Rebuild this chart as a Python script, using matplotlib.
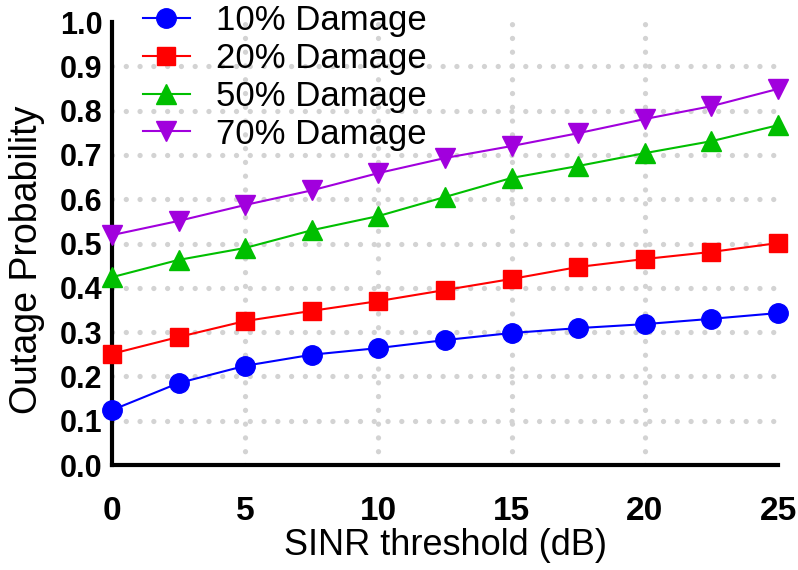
import numpy as np
import matplotlib
matplotlib.use('Agg')
import matplotlib.pyplot as plt

# SINR threshold (dB) and outage probability per damage level
sinr_db = [0, 2.5, 5, 7.5, 10, 12.5, 15, 17.5, 20, 22.5, 25]
outage_10 = [0.124, 0.185, 0.224, 0.249, 0.264, 0.282, 0.298, 0.309, 0.318, 0.330, 0.343]
outage_20 = [0.251, 0.289, 0.325, 0.348, 0.370, 0.395, 0.420, 0.447, 0.465, 0.481, 0.501]
outage_50 = [0.424, 0.463, 0.490, 0.530, 0.562, 0.605, 0.648, 0.675, 0.704, 0.731, 0.767]
outage_70 = [0.519, 0.551, 0.587, 0.620, 0.659, 0.693, 0.720, 0.749, 0.781, 0.810, 0.849]
labels = ['10% Damage', '20% Damage', '50% Damage', '70% Damage']

x_ticks = [0, 5, 10, 15, 20, 25]
y_ticks = np.round(np.arange(0, 1.01, 0.1), 1)

plt.rcParams['font.family'] = ['Liberation Sans', 'DejaVu Sans']

fig = plt.figure(figsize=(7.98, 5.70), dpi=100)
ax = fig.add_axes([0.1404, 0.1842, 0.8346, 0.7772])

series = [
    (outage_10, '#0000ff', 'o', 14),
    (outage_20, '#ff0000', 's', 13),
    (outage_50, '#00bf00', '^', 14),
    (outage_70, '#a100dd', 'v', 14),
]
for (vals, col, mk, ms), lab in zip(series, labels):
    ax.plot(sinr_db, vals, color=col, marker=mk, ms=ms, lw=1.5,
            label=lab, clip_on=False, zorder=3)

ax.set_xlim(0, 25)
ax.set_ylim(0, 1.0)
ax.set_xticks(x_ticks)
ax.set_yticks(y_ticks)
ax.set_yticklabels([f'{v:.1f}' for v in y_ticks])

for s in ['top', 'right']:
    ax.spines[s].set_visible(False)
for s in ['left', 'bottom']:
    ax.spines[s].set_linewidth(3)

ax.tick_params(axis='both', length=0)
ax.tick_params(axis='y', pad=7, labelsize=22)
ax.tick_params(axis='x', pad=22, labelsize=24)
for t in ax.get_xticklabels() + ax.get_yticklabels():
    t.set_fontweight('bold')

# dotted grey grid, inner lines only
ax.grid(True, color='#d3d3d3', lw=3.8, linestyle=(0, (0.01, 2.6)),
        dash_capstyle='round', zorder=0)
ax.set_axisbelow(True)
gx = ax.xaxis.get_gridlines()
gx[0].set_visible(False); gx[-1].set_visible(False)
gy = ax.yaxis.get_gridlines()
gy[0].set_visible(False); gy[-1].set_visible(False)

ax.set_xlabel('SINR threshold (dB)', fontsize=26, labelpad=1)
ax.set_ylabel('Outage Probability', fontsize=27)
ax.yaxis.set_label_coords(-0.1, 0.463)

leg = ax.legend(loc='upper left', bbox_to_anchor=(143 / 798, 1 - 4 / 570),
                bbox_transform=fig.transFigure, frameon=False, fontsize=25,
                borderpad=0, borderaxespad=0, labelspacing=0.14,
                handlelength=1.35, handletextpad=0.75)

fig.savefig('out.png', dpi=100)
